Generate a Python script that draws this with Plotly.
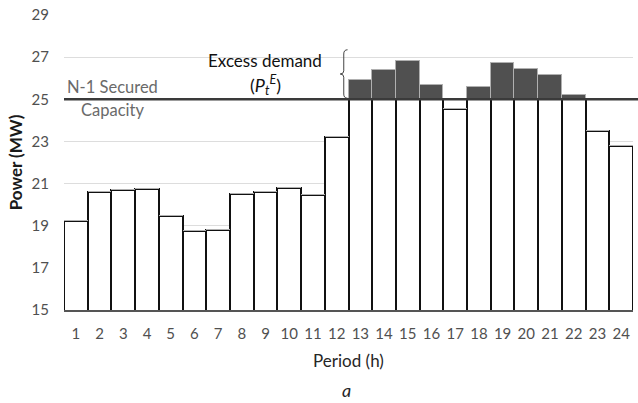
import plotly.graph_objects as go

periods = list(range(1, 25))
demand = [19.23, 20.61, 20.70, 20.75, 19.48, 18.77, 18.80, 20.49, 20.61, 20.77, 20.44, 23.21,
          25.93, 26.39, 26.81, 25.68, 24.53, 25.57, 26.73, 26.45, 26.15, 25.20, 23.49, 22.80]
capacity = 25
y_ticks = [15, 17, 19, 21, 23, 25, 27, 29]

secured = [min(v, capacity) for v in demand]
excess = [max(v - capacity, 0) for v in demand]

FONT = "Lato"
fig = go.Figure()
fig.add_trace(go.Bar(x=periods, y=secured, marker=dict(color="white", line=dict(color="#111111", width=2)),
                     showlegend=False))
fig.add_trace(go.Bar(x=periods, y=excess, marker=dict(color="#505050", line=dict(color="#b0b0b0", width=1)),
                     showlegend=False))

fig.update_layout(
    width=638, height=403, margin=dict(l=64, r=5, t=12, b=93),
    barmode="stack", bargap=0, plot_bgcolor="white", paper_bgcolor="white",
    font=dict(family=FONT, size=15, color="#505050"),
    xaxis=dict(range=[0.5, 24.5], tickvals=periods, ticktext=[str(p) for p in periods],
               showgrid=False, zeroline=False, showline=True, linecolor="#555555", linewidth=2,
               ticks="", ticklabelstandoff=9,
               title=dict(text="Period (h)", font=dict(size=17, color="#262626"), standoff=14)),
    yaxis=dict(range=[15, 29], tickvals=y_ticks, showgrid=True, gridcolor="#dddddd", gridwidth=1,
               zeroline=False, showline=False, ticks="", ticklabelstandoff=14,
               title=dict(text="<b>Power (MW)</b>", font=dict(size=17, color="#1a1a1a"), standoff=4)),
)

# N-1 secured capacity line
fig.add_shape(type="line", xref="paper", yref="y", x0=0, x1=1.0088, y0=capacity, y1=capacity,
              line=dict(color="#3a3a3a", width=2.5), layer="above")

fig.add_annotation(xref="paper", yref="y", x=0.086, xanchor="center", y=capacity, yshift=12,
                   text="N-1 Secured", showarrow=False, font=dict(size=16.5, color="#6a6a6a"))
fig.add_annotation(xref="paper", yref="y", x=0.086, xanchor="center", y=capacity, yshift=-11,
                   text="Capacity", showarrow=False, font=dict(size=16.5, color="#6a6a6a"))

fig.add_annotation(xref="x", yref="y", x=8.98, xanchor="center", y=26.85, text="Excess demand",
                   showarrow=False, font=dict(size=17, color="#111111"))
fig.add_annotation(xref="x", yref="y", x=8.98, xanchor="center", y=25.68,
                   text="(<i>P</i><sub><i>t</i></sub><sup><i>E</i></sup>)",
                   showarrow=False, font=dict(size=18, color="#111111"))

# brace
bx_r, bx_m, bx_l = 12.46, 12.3, 12.15
yt, ym, yb = 27.35, 26.2, 25.05
path = (f"M {bx_r} {yt} Q {bx_m} {yt} {bx_m} {yt-0.2} L {bx_m} {ym+0.15} "
        f"Q {bx_m} {ym} {bx_l} {ym} Q {bx_m} {ym} {bx_m} {ym-0.15} L {bx_m} {yb+0.2} "
        f"Q {bx_m} {yb} {bx_r} {yb}")
fig.add_shape(type="path", xref="x", yref="y", path=path, line=dict(color="#444444", width=1))

fig.add_annotation(xref="paper", yref="paper", x=0.496, y=-0.27, yanchor="middle",
                   text="<i>a</i>", showarrow=False, font=dict(size=18, color="#262626"))

fig.write_html("out.html")
